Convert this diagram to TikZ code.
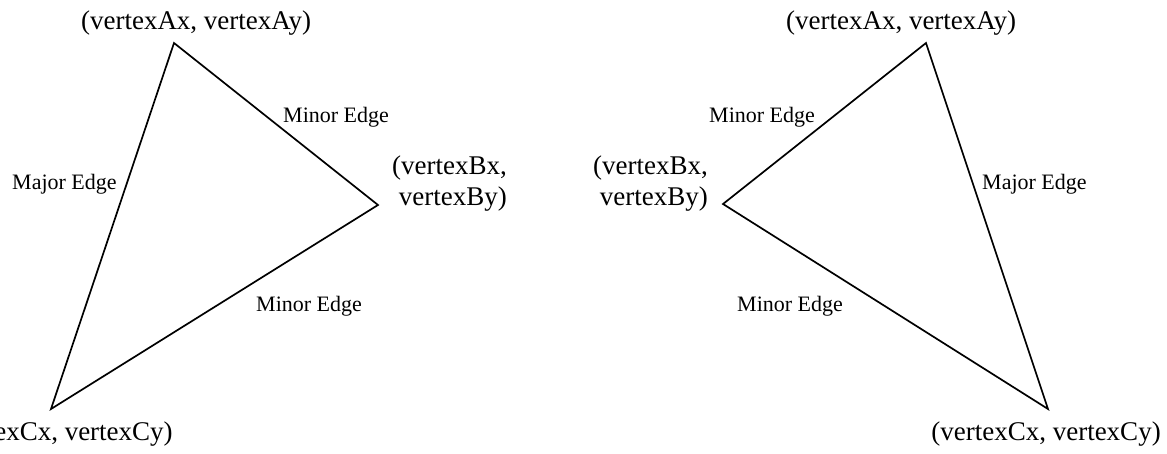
\documentclass[tikz,border=0pt]{standalone}
\usepackage{fontspec}
\setmainfont{Liberation Serif}
\begin{document}
\begin{tikzpicture}[x=1pt,y=-1pt,
  edge/.style={line width=1.7pt, line join=miter},
  vlabel/.style={inner sep=0pt, anchor=base, font=\fontsize{27}{31}\selectfont},
  blabel/.style={inner sep=0pt, anchor=base east, align=right, font=\fontsize{27}{31.5}\selectfont},
  elabel/.style={inner sep=0pt, anchor=base west, font=\fontsize{22}{26}\selectfont}]
\useasboundingbox (0,0) rectangle (1167,454);
% left triangle
\coordinate (LA) at (174,43);
\coordinate (LB) at (378,205);
\coordinate (LC) at (51,409);
\draw[edge] (LA) -- (LB) -- (LC) -- cycle;
\node[vlabel] (lat) at (196,30) {(vertexAx, vertexAy)};
\node[blabel] (lbt) at (507,206) {(vertexBx,\\vertexBy)};
\node[vlabel] (lct) at (58,440) {(vertexCx, vertexCy)};
\node[elabel] (lm1) at (283,123) {Minor Edge};
\node[elabel] (lmaj) at (12,190) {Major Edge};
\node[elabel] (lm2) at (256,312) {Minor Edge};
% right triangle
\coordinate (RA) at (926,43);
\coordinate (RB) at (723,204);
\coordinate (RC) at (1048,409);
\draw[edge] (RA) -- (RB) -- (RC) -- cycle;
\node[vlabel] (rat) at (901,30) {(vertexAx, vertexAy)};
\node[blabel] (rbt) at (708,206) {(vertexBx,\\vertexBy)};
\node[vlabel] (rct) at (1046,440) {(vertexCx, vertexCy)};
\node[elabel] (rm1) at (709,123) {Minor Edge};
\node[elabel] (rmaj) at (982,190) {Major Edge};
\node[elabel] (rm2) at (737,312) {Minor Edge};
\end{tikzpicture}
\end{document}
